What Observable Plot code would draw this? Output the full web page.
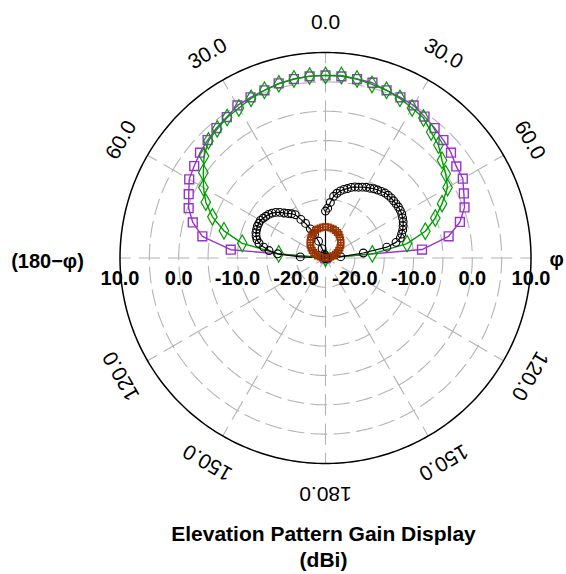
<!DOCTYPE html>
<html><head><meta charset="utf-8">
<script src="https://cdn.jsdelivr.net/npm/d3@7"></script>
<script src="https://cdn.jsdelivr.net/npm/@observablehq/plot@0.6"></script>
<style>body{margin:0;background:#fff} svg{display:block}</style>
</head><body><div id="chart"></div>
<script>
// ---- data (elevation angle in degrees, 0 = zenith; gain in dBi) ----
const angles5 = [-90,-85,-80,-75,-70,-65,-60,-55,-50,-45,-40,-35,-30,-25,-20,-15,-10,-5,0,5,10,15,20,25,30,35,40,45,50,55,60,65,70,75,80,85,90];
const angles25 = d3.range(-90, 90.01, 2.5);
const purpleGain = [-30,-8.8,-3.7,-1.6,-0.2,0.7,1.8,2.3,2.9,3.4,3.9,4.3,5.0,5.2,5.4,5.8,5.95,6.05,6.1,6.05,5.95,5.9,5.4,5.2,5.0,4.4,3.9,3.4,2.9,2.2,2.0,1.0,0.2,-1.3,-3.7,-8.5,-30];
const greenGain  = [-30,-17.0,-10.6,-7.1,-4.5,-2.5,-1.0,0.4,2.0,3.2,3.7,4.2,4.5,5.0,5.4,5.7,5.95,6.1,6.1,6.2,5.95,5.6,5.4,5.0,4.5,4.1,3.0,2.2,0.9,0.0,-1.0,-3.1,-5.1,-7.4,-10.9,-17.0,-30];
const blackGain  = [-30,-20.7,-16.8,-15.3,-14.3,-13.4,-12.9,-12.6,-12.4,-12.3,-12.2,-12.2,-12.2,-12.4,-12.6,-12.8,-13.1,-13.5,-14.0,-14.6,-15.1,-15.5,-16.0,-17.2,-18.2,-19.4,-20.6,-21.9,-23.3,-24.3,-30,-30,-30,-30,-30,-28,
  -17.0,-16.5,-15.5,-14.4,-13.8,-13.3,-12.9,-12.6,-12.2,-11.9,-11.7,-11.4,-11.1,-10.9,-10.6,-10.4,-10.2,-10.0,-9.9,-9.85,-9.85,-9.85,-9.85,-9.9,-10.0,-10.2,-10.4,-10.7,-11.0,-11.4,-11.8,-12.7,-14.4,-18.5,-22.4,-24.5,-30];
const brownGain  = [-25.0,-24.5,-24.1,-23.6,-23.2,-22.8,-22.4,-22.0,-21.6,-21.3,-21.0,-20.7,-20.4,-20.2,-20.0,-19.9,-19.8,-19.7,-19.7,-19.7,-19.8,-19.9,-20.0,-20.2,-20.4,-20.7,-21.0,-21.3,-21.6,-22.0,-22.4,-22.8,-23.2,-23.6,-24.1,-24.5,-25.0];

const ringLevels = [-20, -15, -10, -5, 0, 5];
const outerLevel = 10;
const spokeAngles = [0, 30, 60, 90, 120, 150, 180, 210, 240, 270, 300, 330];
const angleTickAngles = [0, 30, 60, 120, 150, 180, -150, -120, -60, -30];
const angleTickLabels = ["0.0", "30.0", "60.0", "120.0", "150.0", "180.0", "150.0", "120.0", "60.0", "30.0"];
const gainTickValues = [10, 0, -10, -20];
const gainTickLabels = ["10.0", "0.0", "-10.0", "-20.0"];
const leftLabel = "(180\u2212\u03c6)";
const rightLabel = "\u03c6";
const titleLines = ["Elevation Pattern Gain Display", "(dBi)"];

// ---- geometry ----
const MIN = -25, MAX = 10;
const W = 566, H = 574, CX = 325, CY = 257.5, RPX = 205.5;
const k = RPX / (MAX - MIN);
const rad = d => d * Math.PI / 180;
function polar(theta, db) {
  const rr = Math.max(0, db - MIN);
  return {x: rr * Math.sin(rad(theta)), y: rr * Math.cos(rad(theta))};
}
const px2x = p => (p - CX) / k;
const px2y = p => (CY - p) / k;

function series(angles, gains) {
  return angles.map((a, i) => ({...polar(a, gains[i]), a, g: gains[i]}));
}
const purple = series(angles5, purpleGain);
const green = series(angles5, greenGain);
const black = series(angles25, blackGain);
const brown = series(angles5, brownGain);

const ringPts = [];
for (const lv of ringLevels) for (let t = 0; t <= 360; t += 1) ringPts.push({...polar(t, lv), lv});
const outerPts = [];
for (let t = 0; t <= 360; t += 1) outerPts.push(polar(t, outerLevel));
const spokes = spokeAngles.map(a => ({x1: 0, y1: 0, x2: polar(a, outerLevel).x, y2: polar(a, outerLevel).y}));

const LR = 236 / k; // label radius in scale units
const angleLabels = angleTickAngles.map((a, i) => ({
  x: LR * Math.sin(rad(a)), y: LR * Math.cos(rad(a)), text: angleTickLabels[i], rot: a
}));
const gainLabels = [];
gainTickValues.forEach((v, i) => {
  gainLabels.push({x: -(v - MIN), y: 0, text: gainTickLabels[i]});
  gainLabels.push({x: (v - MIN), y: 0, text: gainTickLabels[i]});
});

const PURPLE = "#9933cc", GREEN = "#009c00", BROWN = "#993300";

const chart = Plot.plot({
  width: W, height: H, margin: 0,
  x: {type: "linear", domain: [px2x(0), px2x(W)], range: [0, W], axis: null},
  y: {type: "linear", domain: [px2y(H), px2y(0)], range: [H, 0], axis: null},
  style: {background: "#fff", fontFamily: "'Liberation Sans', Arial, sans-serif"},
  marks: [
    Plot.line(ringPts, {x: "x", y: "y", z: "lv", stroke: "#b4b4b4", strokeWidth: 1.1, strokeDasharray: "16,7"}),
    Plot.link(spokes, {x1: "x1", y1: "y1", x2: "x2", y2: "y2", stroke: "#b4b4b4", strokeWidth: 1.1,
      strokeDasharray: `${5 * k - 8},8`, strokeDashoffset: (5 * k - 8) / 2}),
    Plot.line(outerPts, {x: "x", y: "y", stroke: "#000", strokeWidth: 1.5}),
    // series
    Plot.line(purple, {x: "x", y: "y", stroke: PURPLE, strokeWidth: 1.4}),
    Plot.dot(purple, {x: "x", y: "y", symbol: "square", r: 5, stroke: PURPLE, strokeWidth: 1.4, fill: "none"}),
    Plot.line(green, {x: "x", y: "y", stroke: GREEN, strokeWidth: 1.4}),
    Plot.dot(green, {x: "x", y: "y", symbol: "diamond", r: 5, stroke: GREEN, strokeWidth: 1.2, fill: "none"}),
    Plot.line(black, {x: "x", y: "y", stroke: "#000", strokeWidth: 1.2}),
    Plot.dot(black, {x: "x", y: "y", symbol: "circle", r: 3.9, stroke: "#000", strokeWidth: 1.1, fill: "none"}),
    Plot.line(brown, {x: "x", y: "y", stroke: BROWN, strokeWidth: 1.2}),
    Plot.dot(brown, {x: "x", y: "y", symbol: "square", r: 3.2, stroke: BROWN, strokeWidth: 1.4, fill: "none"}),
    // labels
    Plot.text(angleLabels, {x: "x", y: "y", text: "text", rotate: "rot", fontSize: 21, fill: "#000"}),
    Plot.text(gainLabels, {x: "x", y: "y", text: "text", dy: 21, fontSize: 20, fontWeight: "bold", fill: "#000"}),
    Plot.text([{x: px2x(47), y: px2y(261), t: leftLabel}], {x: "x", y: "y", text: "t", fontSize: 20, fontWeight: "bold", fill: "#000"}),
    Plot.text([{x: px2x(549), y: px2y(259), t: rightLabel}], {x: "x", y: "y", text: "t", textAnchor: "start", fontSize: 20, fontWeight: "bold", fill: "#000"}),
    Plot.text([{x: px2x(323), y: px2y(534), t: titleLines[0]}, {x: px2x(323), y: px2y(560), t: titleLines[1]}],
      {x: "x", y: "y", text: "t", fontSize: 21, fontWeight: "bold", fill: "#000"})
  ]
});
document.getElementById("chart").appendChild(chart);
</script>
</body></html>
